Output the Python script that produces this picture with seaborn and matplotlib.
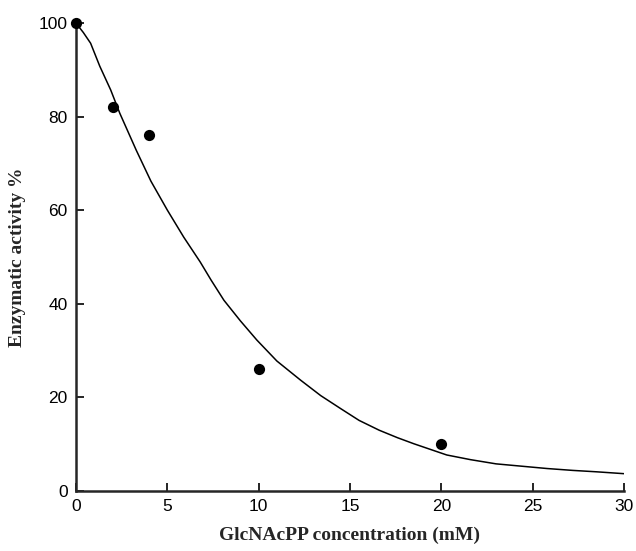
#%% Imports

import numpy as np
import pandas as pd
import matplotlib
matplotlib.use('Agg')
import matplotlib.pyplot as plt
import seaborn as sns

#%% Data

conc_points = [0, 2, 4, 10, 20]
activity_points = [100, 82, 76, 26, 10]

# fitted curve
curve_x = [0, 0.4, 0.8, 1.3, 1.9, 2.4, 3.3, 4.1, 5.0, 5.9, 6.8, 7.4, 8.1,
           9.0, 9.9, 11.0, 12.3, 13.4, 14.5, 15.5, 16.6, 17.6, 18.5, 20.3,
           21.6, 23.0, 24.4, 25.8, 27.2, 28.5, 30]
curve_y = [100, 98.0, 95.7, 90.8, 85.7, 80.7, 72.8, 66.2, 60.0, 54.2, 48.9,
           45.0, 40.7, 36.3, 32.2, 27.7, 23.6, 20.3, 17.5, 15.0, 12.9, 11.3,
           10.0, 7.6, 6.6, 5.7, 5.2, 4.7, 4.3, 4.0, 3.6]

xticks = [0, 5, 10, 15, 20, 25, 30]
yticks = [0, 20, 40, 60, 80, 100]

df_pts = pd.DataFrame({'conc': conc_points, 'act': activity_points})
df_fit = pd.DataFrame({'conc': curve_x, 'act': curve_y})

#%% Plot

sns.set_style('ticks')
plt.rcParams['font.family'] = ['Liberation Sans', 'DejaVu Sans']

fig = plt.figure(figsize=(6.36, 5.51), dpi=100)
ax = fig.add_axes([0.1195, 0.1098, 0.8615, 0.8482])

sns.lineplot(data=df_fit, x='conc', y='act', ax=ax, color='black',
             linewidth=1.1, sort=False)
sns.scatterplot(data=df_pts, x='conc', y='act', ax=ax, color='black',
                s=65, edgecolor='black', linewidth=0, zorder=5, clip_on=False)

ax.set_xlim(0, 30)
ax.set_ylim(0, 100)
ax.set_xticks(xticks)
ax.set_yticks(yticks)
ax.tick_params(direction='in', length=6, width=1.2, labelsize=12.5, pad=6,
               colors='black')
for side in ['left', 'bottom']:
    ax.spines[side].set_linewidth(1.8)
sns.despine(ax=ax)

lab_font = dict(family='Liberation Serif', fontweight='bold', fontsize=14)
ax.set_xlabel('GlcNAcPP concentration (mM)', labelpad=9, **lab_font)
ax.set_ylabel('Enzymatic activity %', labelpad=9, **lab_font)

fig.savefig('out.png', dpi=100)
